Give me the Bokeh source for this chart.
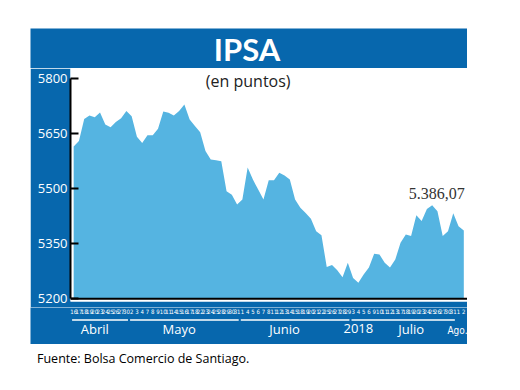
from bokeh.plotting import figure
from bokeh.models import Range1d, FixedTicker, Span, Label, Spacer, Div
from bokeh.layouts import column, row
from bokeh.embed import file_html
from bokeh.resources import INLINE
from bokeh.core.properties import value

# ---------------- data ----------------
title = "IPSA"
subtitle = "(en puntos)"
source_note = "Fuente: Bolsa Comercio de Santiago."
year_label = "2018"

apr_days = [16, 17, 18, 19, 20, 23, 24, 25, 26, 27, 30]
may_days = [2, 3, 4, 7, 8, 9, 10, 11, 14, 15, 16, 17, 18, 22, 23, 24, 25, 28, 29, 30, 31]
jun_days = [1, 4, 5, 6, 7, 8, 11, 12, 13, 14, 15, 18, 19, 20, 21, 22, 25, 26, 27, 28, 29]
jul_days = [3, 4, 5, 6, 9, 10, 11, 12, 13, 17, 18, 19, 20, 23, 24, 25, 26, 27, 30, 31]
ago_days = [1, 2]
month_names = ["Abril", "Mayo", "Junio", "Julio", "Ago."]

ipsa = [5615, 5630, 5690, 5700, 5695, 5708, 5675, 5668, 5682, 5692,
        5712, 5698, 5642, 5625, 5646, 5646, 5664, 5711, 5707, 5700,
        5712, 5730, 5689, 5671, 5654, 5603, 5580, 5578, 5575, 5493,
        5484, 5457, 5471, 5558, 5525, 5498, 5471, 5523, 5523, 5544,
        5536, 5525, 5471, 5448, 5434, 5418, 5384, 5373, 5287, 5292,
        5278, 5259, 5298, 5257, 5244, 5266, 5285, 5323, 5321, 5298,
        5285, 5307, 5353, 5375, 5371, 5428, 5412, 5445, 5455, 5439,
        5371, 5384, 5433, 5398, 5386.07]

y_ticks = [5200, 5350, 5500, 5650, 5800]

# ---------------- derived ----------------
months = [apr_days, may_days, jun_days, jul_days, ago_days]
day_labels = [str(d) for m in months for d in m]
idx = list(range(len(day_labels)))
starts, ends = [], []
k = 0
for m in months:
    starts.append(k)
    ends.append(k + len(m) - 1)
    k += len(m)

def fmt_es(v):
    s = f"{v:,.2f}"
    return s.replace(",", "#").replace(".", ",").replace("#", ".")

# ---------------- style ----------------
BLUE = "#0767ad"
AREA = "#55b4e1"
W = 437
LEFT = 40
FONT = value("Open Sans")
NARROW = value("'Liberation Sans Narrow', 'DejaVu Sans Condensed', sans-serif")

X0, X1 = -0.6, 74.7
x_range = Range1d(X0, X1)
# same scale as the main frame, extended over the 40px left band
px_per_unit = (W - LEFT) / (X1 - X0)
x_range_band = Range1d(X0 - LEFT / px_per_unit, X1)

def base(**kw):
    return figure(toolbar_location=None, output_backend="svg",
                  outline_line_color=None, **kw)

# title band
p0 = base(width=W, height=40, x_range=(0, 1), y_range=(0, 1), min_border=0,
          x_axis_type=None, y_axis_type=None,
          background_fill_color=BLUE, border_fill_color=BLUE)
p0.text(x=[0.5], y=[0.5], text=[title], x_offset=-2, text_align="center",
        text_baseline="middle", text_font=value("Lato"),
        text_font_style="bold", text_font_size="31px", text_color="white")

# main chart
p1 = base(width=W, height=239, x_range=x_range,
          y_range=Range1d(5192.6, 5828),
          min_border_left=LEFT, min_border_right=0,
          min_border_top=0, min_border_bottom=6,
          x_axis_type=None,
          background_fill_color="white", border_fill_color=BLUE)
p1.grid.visible = False
p1.varea(x=idx, y1=[y_ticks[0]] * len(idx), y2=ipsa, color=AREA)
p1.add_layout(Span(location=y_ticks[0], dimension="width",
                   line_color="black", line_width=2))
ya = p1.yaxis[0]
ya.ticker = FixedTicker(ticks=y_ticks)
ya.bounds = (y_ticks[0], y_ticks[-1])
ya.axis_line_color = "black"
ya.axis_line_width = 2
ya.major_tick_in = 8
ya.major_tick_out = 0
ya.major_tick_line_width = 2
ya.minor_tick_line_color = None
ya.major_label_text_color = "white"
ya.major_label_text_font = "Open Sans"
ya.major_label_text_font_size = "13px"
ya.major_label_standoff = 3

p1.add_layout(Label(x=33.1, y=5793, text=subtitle, text_align="center",
                    text_baseline="middle", text_font="Open Sans",
                    text_font_size="16px", text_color="#222222"))
p1.add_layout(Label(x=idx[-1], y=ipsa[-1], y_offset=37, x_offset=1,
                    text=fmt_es(ipsa[-1]), text_align="right",
                    text_baseline="middle", text_font="Liberation Serif",
                    text_font_size="16px", text_color="#333333"))

# bottom band with dates
p2 = base(width=W, height=37, x_range=x_range_band, y_range=Range1d(0, 37),
          min_border=0,
          x_axis_type=None, y_axis_type=None,
          background_fill_color=BLUE, border_fill_color=BLUE)
p2.text(x=idx, y=[33] * len(idx), text=day_labels, text_align="center",
        text_baseline="middle", text_font=NARROW, text_font_size="6px",
        text_color="white")
p2.segment(x0=[s - 0.3 for s in starts[:4]], x1=[e + 0.3 for e in ends[:4]],
           y0=[24.5] * 4, y1=[24.5] * 4, line_color="white", line_width=1.5)
label_x = [starts[0] + 4, starts[1] + 9, starts[2] + 8, starts[3] + 11]
p2.text(x=label_x, y=[16] * 4, text=month_names[:4], text_align="center",
        text_baseline="middle", text_font=FONT, text_font_size="13px",
        text_color="white")
p2.text(x=[starts[3] + 1], y=[16], text=[year_label], text_align="center",
        text_baseline="middle", text_font=FONT, text_font_size="13px",
        text_color="white")
p2.text(x=[X1], y=[14], text=[month_names[4]], text_align="right",
        text_baseline="middle", text_font=NARROW, text_font_size="10px",
        text_color="white")

# source note
note = Div(text=source_note, width=W, height=20,
           styles={"font-family": "Open Sans", "font-size": "12.5px",
                   "color": "black", "padding-left": "2px",
                   "line-height": "20px", "white-space": "nowrap"})

inner = column(Spacer(width=W, height=28), row(p0), p1, row(p2), note,
               spacing=0)
layout = row(Spacer(width=30, height=10), inner, spacing=0)
open("out.html", "w").write(file_html(layout, INLINE))
